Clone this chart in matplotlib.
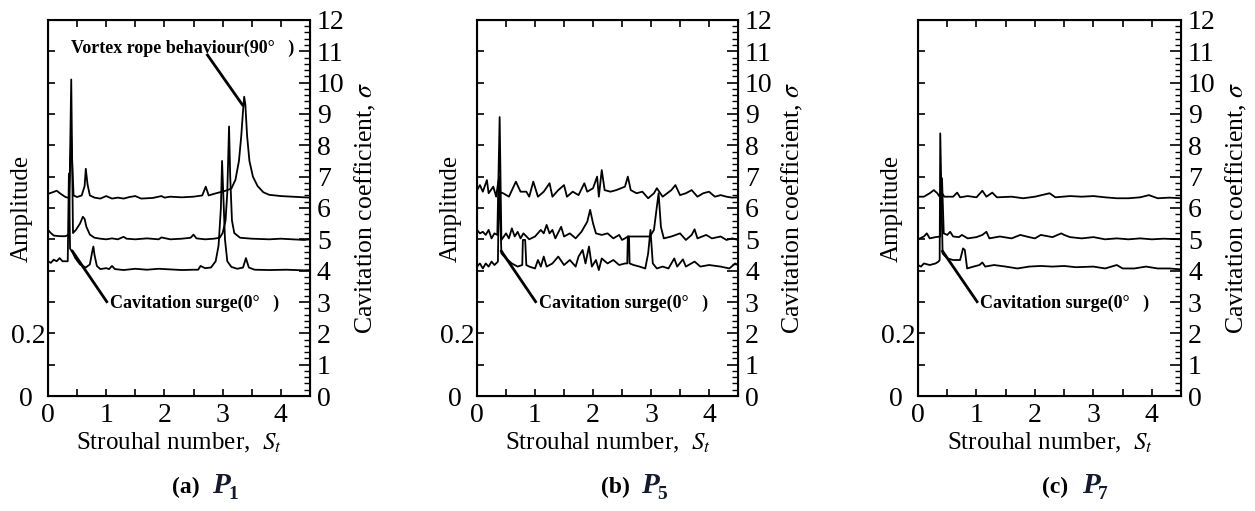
import numpy as np
import matplotlib
matplotlib.use("Agg")
import matplotlib.pyplot as plt
from matplotlib.ticker import MultipleLocator, FixedLocator, FixedFormatter

plt.rcParams['font.family'] = ['Liberation Serif', 'DejaVu Serif']
plt.rcParams['mathtext.fontset'] = 'stix'

# ---------------- data (Strouhal number vs offset spectra, sigma units) -------------
# Panel (a) P1
a_top_x = [0, 0.08, 0.15, 0.22, 0.3, 0.36, 0.4, 0.44, 0.5, 0.58, 0.63, 0.65, 0.68, 0.72, 0.8, 0.9,
           1.0, 1.1, 1.2, 1.3, 1.4, 1.5, 1.6, 1.8, 1.95, 2.0, 2.1, 2.3, 2.5, 2.65, 2.71, 2.76, 2.85,
           2.95, 3.05, 3.15, 3.22, 3.28, 3.32, 3.35, 3.37, 3.39, 3.42, 3.46, 3.52, 3.6, 3.7, 3.8,
           4.0, 4.2, 4.4, 4.5]
a_top_y = [6.45, 6.5, 6.55, 6.45, 6.35, 6.32, 8.2, 6.4, 6.35, 6.4, 6.7, 7.25, 6.75, 6.4, 6.33, 6.3,
           6.38, 6.3, 6.33, 6.3, 6.35, 6.38, 6.3, 6.32, 6.38, 6.33, 6.36, 6.34, 6.36, 6.4, 6.68, 6.4,
           6.45, 6.5, 6.55, 6.62, 6.9, 7.5, 8.3, 9.1, 9.55, 9.3, 8.3, 7.5, 7.0, 6.7, 6.5, 6.42,
           6.38, 6.36, 6.34, 6.33]

a_mid_x = [0, 0.05, 0.1, 0.2, 0.3, 0.36, 0.4, 0.43, 0.48, 0.55, 0.6, 0.63, 0.66, 0.72, 0.8, 0.9,
           1.0, 1.1, 1.2, 1.3, 1.35, 1.5, 1.7, 1.9, 1.95, 2.1, 2.3, 2.45, 2.5, 2.55, 2.7, 2.85, 2.95,
           3.0, 3.05, 3.08, 3.11, 3.13, 3.16, 3.2, 3.3, 3.5, 3.8, 4.0, 4.2, 4.4, 4.5]
a_mid_y = [5.3, 5.2, 5.12, 5.1, 5.1, 5.15, 10.1, 5.2, 5.3, 5.5, 5.72, 5.65, 5.4, 5.15, 5.05, 5.02,
           5.0, 5.03, 5.0, 5.08, 5.02, 5.0, 5.03, 5.0, 5.06, 5.0, 5.02, 5.05, 5.15, 5.03, 5.0, 5.02,
           5.05, 5.2, 5.6, 6.5, 8.6, 7.0, 5.6, 5.2, 5.05, 5.02, 5.0, 5.02, 5.0, 4.98, 5.0]

a_bot_x = [0, 0.05, 0.1, 0.15, 0.2, 0.25, 0.3, 0.34, 0.36, 0.38, 0.42, 0.47, 0.55, 0.65, 0.72,
           0.76, 0.78, 0.8, 0.84, 0.9, 1.0, 1.05, 1.1, 1.15, 1.3, 1.5, 1.7, 1.9, 2.1, 2.3, 2.5,
           2.58, 2.62, 2.7, 2.8, 2.88, 2.93, 2.97, 2.99, 3.01, 3.04, 3.08, 3.15, 3.25, 3.35, 3.4,
           3.45, 3.55, 3.8, 4.1, 4.4, 4.5]
a_bot_y = [4.3, 4.25, 4.35, 4.3, 4.4, 4.3, 4.3, 4.3, 7.1, 4.7, 4.6, 4.4, 4.2, 4.1, 4.2,
           4.6, 4.77, 4.5, 4.15, 4.05, 4.08, 4.05, 4.15, 4.05, 4.02, 4.06, 4.03, 4.06, 4.04, 4.02, 4.03,
           4.03, 4.15, 4.08, 4.1, 4.3, 4.8, 6.0, 7.5, 6.5, 5.0, 4.3, 4.12, 4.06, 4.1, 4.4,
           4.1, 4.03, 4.02, 4.03, 4.01, 4.02]

# Panel (b) P5
b_top_x = [0, 0.05, 0.1, 0.17, 0.2, 0.28, 0.33, 0.37, 0.4, 0.45, 0.55, 0.67, 0.75, 0.85, 0.9, 0.97,
           1.05, 1.15, 1.25, 1.3, 1.4, 1.5, 1.55, 1.65, 1.75, 1.85, 1.9, 2.0, 2.07, 2.1, 2.15, 2.2,
           2.3, 2.4, 2.55, 2.6, 2.65, 2.75, 2.85, 2.95, 3.05, 3.1, 3.2, 3.35, 3.42, 3.5, 3.6, 3.7,
           3.8, 3.9, 4.0, 4.1, 4.2, 4.3, 4.4, 4.5]
b_top_y = [6.57, 6.73, 6.52, 6.89, 6.47, 6.68, 6.36, 6.89, 6.5, 6.47, 6.36, 6.84, 6.52, 6.52, 6.36, 6.84,
           6.36, 6.52, 6.79, 6.36, 6.57, 6.73, 6.36, 6.52, 6.41, 6.79, 6.52, 6.63, 7.0, 6.36, 7.21, 6.57,
           6.52, 6.57, 6.68, 7.0, 6.57, 6.47, 6.52, 6.31, 6.47, 6.63, 6.36, 6.57, 6.73, 6.41, 6.47, 6.57,
           6.36, 6.47, 6.52, 6.36, 6.41, 6.36, 6.33, 6.34]

b_mid_x = [0, 0.05, 0.1, 0.15, 0.2, 0.25, 0.3, 0.35, 0.39, 0.42, 0.5, 0.55, 0.6, 0.65, 0.7, 0.75,
           0.8, 0.9, 1.0, 1.1, 1.15, 1.2, 1.25, 1.3, 1.35, 1.45, 1.5, 1.6, 1.7, 1.8, 1.85, 1.9, 1.95,
           2.0, 2.05, 2.15, 2.25, 2.35, 2.45, 2.5, 2.55, 2.6, 2.98, 3.05, 3.1, 3.13, 3.17, 3.22, 3.35,
           3.5, 3.6, 3.7, 3.75, 3.8, 3.95, 4.05, 4.2, 4.3, 4.4, 4.5]
b_mid_y = [5.3, 5.19, 5.24, 5.14, 5.3, 5.03, 5.19, 5.14, 8.9, 4.98, 5.19, 5.03, 5.35, 5.09, 5.24, 5.03,
           5.19, 5.0, 5.09, 5.3, 5.19, 5.46, 5.19, 5.3, 5.03, 5.4, 5.09, 5.19, 5.03, 5.24, 5.4, 5.56, 5.94,
           5.51, 5.19, 5.14, 5.19, 5.03, 5.14, 4.98, 5.03, 5.09, 5.09, 5.3, 6.04, 6.47, 5.4, 5.03, 5.09,
           5.19, 4.98, 5.14, 5.32, 5.03, 5.14, 5.03, 5.09, 4.98, 5.03, 4.98]

b_bot_x = [0, 0.05, 0.1, 0.15, 0.2, 0.25, 0.3, 0.36, 0.38, 0.42, 0.5, 0.6, 0.7, 0.78, 0.79, 0.83,
           0.85, 0.9, 1.0, 1.05, 1.1, 1.15, 1.2, 1.3, 1.4, 1.5, 1.6, 1.7, 1.75, 1.82, 1.87, 1.93,
           1.98, 2.05, 2.1, 2.15, 2.25, 2.35, 2.45, 2.55, 2.59, 2.6, 2.62, 2.63, 2.7, 2.8, 2.9, 2.95,
           2.99, 3.03, 3.1, 3.2, 3.3, 3.4, 3.45, 3.55, 3.6, 3.75, 3.85, 4.0, 4.2, 4.35, 4.45, 4.5]
b_bot_y = [4.13, 4.23, 4.07, 4.23, 4.13, 4.29, 4.18, 4.29, 7.0, 4.55, 4.39, 4.23, 4.13, 4.18, 4.98, 4.98,
           4.18, 4.13, 4.07, 4.34, 4.13, 4.45, 4.13, 4.23, 4.45, 4.18, 4.34, 4.13, 4.45, 4.66, 4.23, 4.77,
           4.13, 4.34, 4.02, 4.39, 4.23, 4.34, 4.18, 4.23, 4.23, 5.09, 5.09, 4.23, 4.18, 4.13, 4.07, 4.55,
           5.3, 4.23, 4.07, 4.13, 4.07, 4.39, 4.13, 4.36, 4.13, 4.29, 4.13, 4.18, 4.13, 4.07, 4.23, 4.18]

# Panel (c) P7
c_top_x = [0, 0.1, 0.2, 0.27, 0.33, 0.37, 0.4, 0.45, 0.6, 0.67, 0.72, 0.85, 1.0, 1.1, 1.17, 1.27,
           1.35, 1.6, 1.8, 2.0, 2.25, 2.35, 2.6, 2.8, 3.0, 3.2, 3.4, 3.6, 3.8, 3.95, 4.1, 4.3, 4.5]
c_top_y = [6.36, 6.36, 6.47, 6.57, 6.47, 6.36, 6.5, 6.36, 6.36, 6.49, 6.34, 6.38, 6.34, 6.55, 6.36, 6.49,
           6.34, 6.36, 6.31, 6.36, 6.47, 6.34, 6.38, 6.36, 6.38, 6.34, 6.31, 6.31, 6.34, 6.41, 6.31, 6.33, 6.31]

c_mid_x = [0, 0.1, 0.15, 0.2, 0.3, 0.38, 0.41, 0.44, 0.5, 0.55, 0.6, 0.7, 0.75, 0.85, 1.0, 1.1,
           1.17, 1.22, 1.4, 1.6, 1.75, 1.9, 2.0, 2.1, 2.3, 2.45, 2.5, 2.6, 2.8, 3.0, 3.2, 3.4, 3.6,
           3.8, 4.0, 4.2, 4.5]
c_mid_y = [5.0, 5.09, 5.19, 5.03, 5.07, 5.09, 6.95, 5.19, 5.14, 5.24, 5.09, 5.07, 5.14, 5.03, 5.07, 5.14,
           5.24, 5.03, 5.09, 5.03, 5.14, 5.07, 5.03, 5.14, 5.07, 5.19, 5.14, 5.07, 5.03, 5.07, 5.0, 5.03, 5.0,
           5.03, 5.0, 5.02, 5.0]

c_bot_x = [0, 0.05, 0.1, 0.2, 0.3, 0.35, 0.37, 0.38, 0.42, 0.5, 0.6, 0.72, 0.77, 0.8, 0.84, 0.95,
           1.05, 1.1, 1.15, 1.3, 1.5, 1.7, 1.9, 2.1, 2.3, 2.5, 2.7, 3.0, 3.2, 3.4, 3.5, 3.7, 3.9,
           4.1, 4.3, 4.5]
c_bot_y = [4.18, 4.13, 4.23, 4.18, 4.23, 4.29, 4.34, 8.38, 4.55, 4.39, 4.34, 4.34, 4.71, 4.66, 4.07, 4.13,
           4.18, 4.26, 4.13, 4.18, 4.13, 4.07, 4.13, 4.15, 4.13, 4.15, 4.11, 4.13, 4.07, 4.18, 4.07, 4.07, 4.13,
           4.07, 4.07, 4.04]

panels = [
    dict(label='(a)', sub='1', curves=[(a_top_x, a_top_y), (a_mid_x, a_mid_y), (a_bot_x, a_bot_y)],
         rect=[0.0382, 0.225, 0.2088, 0.736], vortex=True),
    dict(label='(b)', sub='5', curves=[(b_top_x, b_top_y), (b_mid_x, b_mid_y), (b_bot_x, b_bot_y)],
         rect=[0.3801, 0.225, 0.2080, 0.736], vortex=False),
    dict(label='(c)', sub='7', curves=[(c_top_x, c_top_y), (c_mid_x, c_mid_y), (c_bot_x, c_bot_y)],
         rect=[0.7315, 0.225, 0.2096, 0.736], vortex=False),
]

W, H = 1255, 511
fig = plt.figure(figsize=(W / 100, H / 100), dpi=100)

amp_ticks = [round(0.1 * i, 1) for i in range(13)]
amp_labels = ['0', '', '0.2'] + [''] * 10
x_ticks = [0.5 * i for i in range(10)]
x_labels = ['0', '', '1', '', '2', '', '3', '', '4', '']

for p in panels:
    ax = fig.add_axes(p['rect'])
    ax.set_xlim(0, 4.5)
    ax.set_ylim(0, 1.2)
    ax.yaxis.set_major_locator(FixedLocator(amp_ticks))
    ax.yaxis.set_major_formatter(FixedFormatter(amp_labels))
    ax.xaxis.set_major_locator(FixedLocator(x_ticks))
    ax.xaxis.set_major_formatter(FixedFormatter(x_labels))
    ax.tick_params(axis='both', direction='in', length=5, width=1.2, labelsize=20,
                   top=True, right=False, pad=2)
    ax.tick_params(axis='x', pad=5)
    for s in ax.spines.values():
        s.set_linewidth(1.5)
    ax.set_ylabel('Amplitude', fontsize=18)
    ax.yaxis.set_label_coords(-0.057, 0.5)
    ax.set_xlabel(r'Strouhal number,  $S_t$', fontsize=18, labelpad=2)

    ax2 = ax.twinx()
    ax2.set_ylim(0, 12)
    ax2.set_xlim(0, 4.5)
    ax2.yaxis.set_major_locator(MultipleLocator(1))
    ax2.yaxis.set_minor_locator(MultipleLocator(0.2))
    ax2.tick_params(axis='y', which='major', direction='in', length=8, width=1.2, labelsize=20, pad=5)
    ax2.tick_params(axis='y', which='minor', direction='in', length=4, width=1.0)
    ax2.set_ylabel(r'Cavitation coefficient, $\sigma$', fontsize=18.5)
    ax2.yaxis.set_label_coords(1.162, 0.5)

    for xs, ys in p['curves']:
        ax2.plot(xs, ys, color='black', lw=1.3)

    ax2.plot([0.42, 1.01], [4.62, 3.01], color='black', lw=2)
    ax2.text(1.06, 2.95, 'Cavitation surge(0°   )', fontsize=13, fontweight='bold',
             ha='left', va='center')
    if p['vortex']:
        ax2.plot([2.74, 3.34], [10.88, 9.29], color='black', lw=2)
        ax2.text(0.4, 11.1, 'Vortex rope behaviour(90°   )', fontsize=13, fontweight='bold',
                 ha='left', va='center')

    # shift the lone "0" amplitude label further left, as in the reference
    fig.canvas.draw()
    t0 = ax.yaxis.get_major_ticks()[0]
    t0.set_pad(11)

    l, b, w, h = p['rect']
    x0 = l * W
    fig.text((x0 + 124) / W, 0.047, p['label'], fontsize=17, fontweight='bold',
             ha='left', va='center')
    fig.text((x0 + 164) / W, 0.049, 'P', fontsize=21, fontweight='bold', fontstyle='italic',
             color='#141a2e', ha='left', va='center')
    fig.text((x0 + 180) / W, 0.033, p['sub'], fontsize=14, fontweight='bold',
             color='#141a2e', ha='left', va='center')

fig.savefig('out.png', dpi=100)
